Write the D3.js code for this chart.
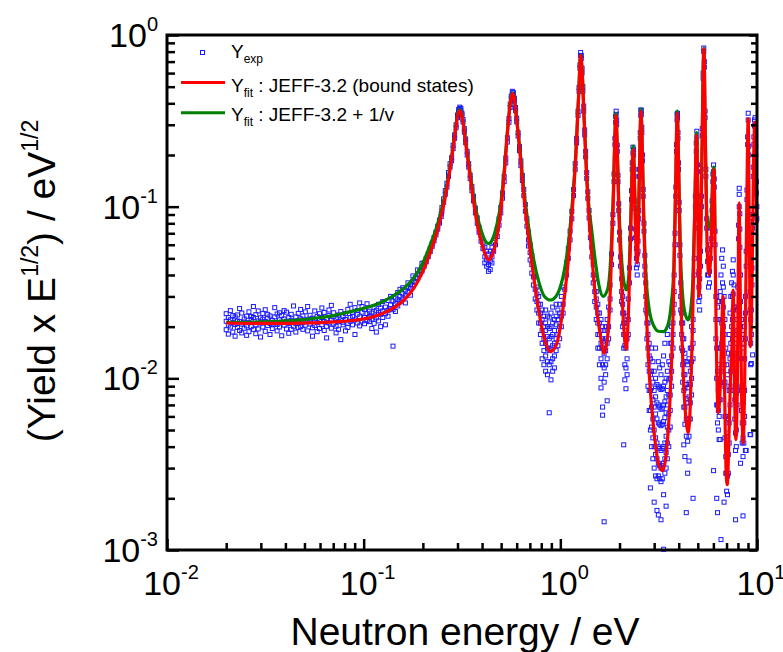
<!DOCTYPE html>
<html>
<head>
<meta charset="utf-8">
<script src="https://cdn.jsdelivr.net/npm/d3@7"></script>
<style>
body { margin: 0; background: #fff; }
text { font-family: "Liberation Sans", Arial, sans-serif; fill: #000; }
</style>
</head>
<body>
<svg id="chart" width="783" height="652"></svg>
<script>
// fitted curves, [energy eV, yield x E^1/2]
let redFit = [
  [0.020,0.0210],[0.030,0.0209],[0.040,0.0209],[0.050,0.0210],[0.060,0.0211],[0.070,0.0213],
  [0.080,0.0215],[0.090,0.0218],[0.100,0.0222],[0.120,0.0235],[0.140,0.0255],[0.160,0.0285],
  [0.180,0.0335],[0.200,0.0420],[0.218,0.0540],[0.235,0.0700],[0.250,0.0920],[0.265,0.128],
  [0.280,0.190],[0.292,0.270],[0.300,0.335],[0.306,0.362],[0.312,0.355],[0.320,0.310],
  [0.330,0.235],[0.345,0.160],[0.360,0.112],[0.380,0.077],[0.400,0.060],[0.420,0.051],
  [0.432,0.049],[0.450,0.052],[0.475,0.066],[0.500,0.098],[0.520,0.160],[0.540,0.280],
  [0.560,0.420],[0.571,0.455],[0.582,0.430],[0.600,0.320],[0.625,0.200],[0.650,0.120],
  [0.690,0.065],[0.730,0.040],[0.780,0.024],[0.830,0.0170],[0.890,0.0143],[0.950,0.0155],
  [1.000,0.0200],[1.050,0.0300],[1.100,0.0500],[1.150,0.0950],[1.200,0.200],[1.240,0.450],
  [1.268,0.760],[1.290,0.620],[1.320,0.330],[1.360,0.150],[1.400,0.085],[1.450,0.050],
  [1.520,0.027],[1.600,0.0175],[1.670,0.0140],[1.740,0.0175],[1.800,0.035],[1.860,0.110],
  [1.900,0.280],[1.918,0.340],[1.940,0.250],[1.980,0.100],[2.040,0.040],[2.100,0.020],
  [2.160,0.0148],[2.220,0.024],[2.280,0.070],[2.330,0.190],[2.350,0.215],[2.380,0.140],
  [2.420,0.060],[2.460,0.047],[2.500,0.080],[2.540,0.230],[2.570,0.360],[2.600,0.260],
  [2.650,0.090],[2.720,0.030],[2.850,0.0095],[3.000,0.0048],[3.150,0.0032],[3.310,0.0029],
  [3.450,0.0036],[3.600,0.0070],[3.750,0.025],[3.850,0.120],[3.930,0.350],[3.990,0.180],
  [4.080,0.040],[4.200,0.0120],[4.350,0.0058],[4.470,0.0048],[4.580,0.0070],[4.700,0.020],
  [4.820,0.090],[4.930,0.260],[5.000,0.110],[5.060,0.030],[5.150,0.045],[5.250,0.200],
  [5.370,0.830],[5.460,0.250],[5.570,0.060],[5.700,0.040],[5.850,0.060],[5.970,0.150],
  [6.040,0.165],[6.120,0.060],[6.230,0.0130],[6.350,0.0063],[6.500,0.0090],[6.620,0.020],
  [6.730,0.030],[6.850,0.0080],[6.970,0.0028],[7.060,0.0024],[7.180,0.0040],[7.340,0.0107],
  [7.450,0.0150],[7.570,0.0327],[7.690,0.0080],[7.810,0.0044],[7.950,0.0100],[8.050,0.060],
  [8.120,0.105],[8.200,0.040],[8.350,0.0080],[8.510,0.0042],[8.650,0.0090],[8.850,0.080],
  [9.020,0.325],[9.130,0.080],[9.270,0.0153],[9.450,0.040],[9.620,0.200],[9.750,0.310],
  [9.880,0.150],[10.00,0.080]
]

let greenFit = [
  [0.020,0.0212],[0.030,0.0213],[0.040,0.0216],[0.050,0.0220],[0.060,0.0226],[0.070,0.0232],
  [0.080,0.0240],[0.090,0.0248],[0.100,0.0256],[0.120,0.0274],[0.140,0.0300],[0.160,0.0335],
  [0.180,0.0385],[0.200,0.0470],[0.218,0.0600],[0.235,0.0760],[0.250,0.0980],[0.265,0.134],
  [0.280,0.196],[0.292,0.275],[0.300,0.340],[0.306,0.366],[0.312,0.360],[0.320,0.316],
  [0.330,0.242],[0.345,0.168],[0.360,0.120],[0.380,0.086],[0.400,0.070],[0.420,0.062],
  [0.432,0.061],[0.450,0.064],[0.475,0.078],[0.500,0.108],[0.520,0.170],[0.540,0.288],
  [0.560,0.425],[0.571,0.460],[0.582,0.435],[0.600,0.326],[0.625,0.208],[0.650,0.130],
  [0.690,0.076],[0.730,0.050],[0.780,0.036],[0.830,0.030],[0.890,0.0286],[0.950,0.030],
  [1.000,0.034],[1.050,0.043],[1.100,0.062],[1.150,0.105],[1.200,0.210],[1.240,0.460],
  [1.268,0.770],[1.290,0.630],[1.320,0.340],[1.360,0.160],[1.400,0.098],[1.440,0.075],
  [1.500,0.050],[1.570,0.035],[1.650,0.0300],[1.740,0.033],[1.800,0.048],[1.860,0.120],
  [1.900,0.290],[1.918,0.350],[1.940,0.260],[1.980,0.112],[2.040,0.053],[2.100,0.037],
  [2.170,0.0327],[2.230,0.040],[2.280,0.085],[2.330,0.200],[2.350,0.225],[2.380,0.150],
  [2.420,0.075],[2.460,0.062],[2.500,0.092],[2.540,0.240],[2.570,0.370],[2.600,0.270],
  [2.650,0.100],[2.720,0.042],[2.850,0.024],[3.000,0.020],[3.150,0.0188],[3.340,0.0187],
  [3.500,0.020],[3.650,0.026],[3.780,0.045],[3.860,0.130],[3.930,0.360],[3.990,0.190],
  [4.080,0.055],[4.200,0.029],[4.350,0.0230],[4.470,0.0219],[4.600,0.025],[4.720,0.038],
  [4.830,0.100],[4.930,0.270],[5.000,0.120],[5.060,0.045],[5.150,0.055],[5.250,0.210],
  [5.370,0.840],[5.460,0.260],[5.570,0.085],[5.710,0.076],[5.850,0.085],[5.970,0.160],
  [6.040,0.170],[6.120,0.070]
]

// measured points: [energy, [yields at that energy]]
let expPoints = [
  [0.0200,[0.0215,0.0238,0.0192]],[0.0205,[0.0204,0.0226,0.0181]],[0.0210,[0.0219,0.0199,0.0248]],
  [0.0216,[0.0211,0.0186,0.0232]],[0.0222,[0.0228,0.0206,0.0176]],[0.0228,[0.0198,0.0234,0.0216]],
  [0.0234,[0.0214,0.0190,0.0255]],[0.0240,[0.0207,0.0240,0.0184]],[0.0247,[0.0222,0.0196,0.0213]],
  [0.0254,[0.0230,0.0202,0.0178]],[0.0261,[0.0211,0.0187,0.0244]],[0.0268,[0.0220,0.0200,0.0229]],
  [0.0275,[0.0226,0.0193,0.0262]],[0.0283,[0.0205,0.0235,0.0182]],[0.0291,[0.0216,0.0247,0.0194]],
  [0.0299,[0.0210,0.0225,0.0174]],[0.0307,[0.0199,0.0221,0.0239]],[0.0316,[0.0214,0.0188,0.0251]],
  [0.0325,[0.0224,0.0203,0.0236]],[0.0334,[0.0209,0.0231,0.0180]],[0.0343,[0.0195,0.0217,0.0205]],
  [0.0353,[0.0228,0.0210,0.0258]],[0.0363,[0.0206,0.0237,0.0189]],[0.0373,[0.0219,0.0199,0.0241]],
  [0.0383,[0.0232,0.0212,0.0177]],[0.0394,[0.0204,0.0222,0.0248]],[0.0405,[0.0215,0.0243,0.0194]],
  [0.0416,[0.0209,0.0226,0.0183]],[0.0428,[0.0193,0.0218,0.0236]],[0.0440,[0.0212,0.0201,0.0264]],
  [0.0452,[0.0228,0.0208,0.0186]],[0.0465,[0.0216,0.0239,0.0198]],[0.0478,[0.0200,0.0222,0.0252]],
  [0.0491,[0.0231,0.0193,0.0211]],[0.0505,[0.0214,0.0204,0.0244]],[0.0519,[0.0221,0.0189,0.0262]],
  [0.0534,[0.0207,0.0233,0.0216]],[0.0549,[0.0197,0.0224,0.0176]],[0.0564,[0.0217,0.0247,0.0203]],
  [0.0580,[0.0211,0.0229,0.0187]],[0.0596,[0.0195,0.0219,0.0238]],[0.0613,[0.0226,0.0205,0.0257]],
  [0.0630,[0.0214,0.0242,0.0190]],[0.0648,[0.0222,0.0201,0.0172]],[0.0666,[0.0210,0.0232,0.0250]],
  [0.0685,[0.0218,0.0196,0.0266]],[0.0704,[0.0228,0.0207,0.0241]],[0.0724,[0.0201,0.0223,0.0184]],
  [0.0744,[0.0234,0.0214,0.0193]],[0.0765,[0.0219,0.0245,0.0168]],[0.0786,[0.0205,0.0229,0.0212]],
  [0.0808,[0.0238,0.0220,0.0189]],[0.0831,[0.0209,0.0252,0.0198]],[0.0854,[0.0226,0.0215,0.0270]],
  [0.0878,[0.0242,0.0205,0.0230]],[0.0903,[0.0219,0.0258,0.0180]],[0.0928,[0.0210,0.0236,0.0248]],
  [0.0954,[0.0228,0.0202,0.0275]],[0.0981,[0.0243,0.0216,0.0262]],
  [0.101,[0.0226,0.0208,0.0252]],[0.104,[0.0238,0.0217,0.0272]],[0.107,[0.0214,0.0246,0.0229]],
  [0.110,[0.0240,0.0221,0.0195]],[0.113,[0.0231,0.0258,0.0209]],[0.116,[0.0225,0.0249,0.0186]],
  [0.119,[0.0242,0.0216,0.0270]],[0.122,[0.0236,0.0257,0.0200]],[0.125,[0.0226,0.0280,0.0247]],
  [0.129,[0.0260,0.0238,0.0205]],[0.133,[0.0249,0.0284,0.0230]],[0.137,[0.0268,0.0255,0.0300]],
  [0.141,[0.0282,0.0251,0.0154]],[0.145,[0.0272,0.0293,0.0245]],[0.149,[0.0287,0.0264,0.0316]],
  [0.153,[0.0300,0.0279,0.0330]],[0.158,[0.0311,0.0290,0.0337]],[0.163,[0.0326,0.0303,0.0275]],
  [0.168,[0.0338,0.0318,0.0360]],[0.173,[0.0352,0.0334,0.0305]],[0.178,[0.0368,0.0345,0.0395]],
  [0.183,[0.0386,0.0364]],[0.188,[0.0405,0.0382,0.0428]],[0.193,[0.0422,0.0404]],
  [0.198,[0.0445,0.0422,0.0468]],[0.203,[0.0470,0.0450]],[0.208,[0.0500,0.0478]],
  [0.213,[0.0532,0.0512]],[0.218,[0.0572,0.0548]],[0.223,[0.0612,0.0588]],[0.228,[0.0660,0.0632]],
  [0.233,[0.0710,0.0684]],[0.238,[0.0770,0.0740]],[0.243,[0.0835,0.0802]],[0.248,[0.0910,0.0875]],
  [0.250,[0.094,0.099]],[0.255,[0.106,0.111]],[0.260,[0.118,0.124]],[0.265,[0.130,0.137]],
  [0.270,[0.150,0.158]],[0.275,[0.170,0.178]],[0.280,[0.193,0.185]],[0.285,[0.218,0.228]],
  [0.290,[0.250,0.262]],[0.295,[0.288,0.300]],[0.300,[0.330,0.342]],[0.304,[0.356,0.368]],
  [0.308,[0.372,0.380]],[0.312,[0.362,0.374]],[0.316,[0.342,0.350]],[0.320,[0.312,0.322]],
  [0.325,[0.272,0.285]],[0.330,[0.236,0.248]],[0.336,[0.200,0.210]],[0.342,[0.170,0.178]],
  [0.348,[0.146,0.153]],[0.355,[0.124,0.131]],[0.362,[0.108,0.115]],[0.370,[0.092,0.098]],
  [0.378,[0.080,0.086]],[0.386,[0.071,0.076]],[0.395,[0.063,0.068]],[0.404,[0.057,0.062]],
  [0.413,[0.051,0.058,0.047]],[0.422,[0.049,0.055,0.045]],[0.431,[0.046,0.053,0.042]],
  [0.440,[0.048,0.055,0.043]],[0.449,[0.051,0.058,0.047]],[0.458,[0.055,0.062]],
  [0.468,[0.060,0.067]],[0.478,[0.067,0.074]],[0.488,[0.078,0.085]],[0.498,[0.092,0.099]],
  [0.508,[0.112,0.120]],[0.518,[0.140,0.150]],[0.528,[0.180,0.192]],[0.538,[0.238,0.252]],
  [0.548,[0.310,0.326]],[0.556,[0.378,0.395]],[0.563,[0.425,0.440]],[0.570,[0.452,0.470]],
  [0.577,[0.448,0.462]],[0.584,[0.412,0.428]],[0.592,[0.362,0.378]],[0.600,[0.312,0.328]],
  [0.610,[0.258,0.270]],[0.620,[0.212,0.224]],[0.630,[0.174,0.185]],[0.641,[0.142,0.152]],
  [0.652,[0.116,0.126]],[0.664,[0.094,0.103]],[0.676,[0.077,0.085]],[0.689,[0.064,0.071,0.059]],
  [0.702,[0.054,0.060,0.049]],[0.716,[0.046,0.052,0.041]],[0.730,[0.039,0.045,0.035]],
  [0.745,[0.033,0.039,0.029]],[0.760,[0.028,0.034,0.025,0.031]],[0.776,[0.024,0.030,0.021,0.027]],
  [0.792,[0.021,0.027,0.018,0.024]],[0.808,[0.019,0.025,0.016,0.022,0.013]],
  [0.825,[0.017,0.023,0.0145,0.020,0.012]],[0.842,[0.016,0.021,0.0135,0.019,0.011,0.025]],
  [0.860,[0.015,0.020,0.0125,0.0175,0.0105,0.023]],[0.878,[0.0145,0.0195,0.012,0.017,0.0063,0.0225]],
  [0.896,[0.015,0.020,0.0125,0.0175,0.0098,0.024]],[0.914,[0.0155,0.021,0.013,0.018,0.011,0.026]],
  [0.933,[0.016,0.022,0.0135,0.019,0.0115]],[0.952,[0.017,0.023,0.0145,0.0205,0.027]],
  [0.972,[0.018,0.025,0.0155,0.022]],[0.992,[0.020,0.027,0.017,0.024]],
  [1.012,[0.023,0.030,0.020]],[1.033,[0.027,0.034,0.024]],[1.054,[0.033,0.039]],
  [1.076,[0.040,0.047]],[1.098,[0.050,0.057]],[1.121,[0.064,0.072]],[1.144,[0.085,0.094]],
  [1.167,[0.116,0.126]],[1.190,[0.165,0.178]],[1.210,[0.235,0.250]],[1.230,[0.340,0.360]],
  [1.245,[0.470,0.495]],[1.258,[0.640,0.670]],[1.268,[0.760,0.790]],[1.278,[0.730,0.760]],
  [1.290,[0.600,0.640]],[1.302,[0.470,0.500]],[1.315,[0.360,0.385]],[1.330,[0.262,0.280]],
  [1.345,[0.195,0.210]],[1.362,[0.146,0.158]],[1.380,[0.112,0.122]],[1.400,[0.086,0.095]],
  [1.422,[0.066,0.074]],[1.445,[0.051,0.058]],[1.470,[0.040,0.046,0.036]],
  [1.496,[0.032,0.038,0.028]],[1.523,[0.026,0.032,0.022,0.029]],
  [1.551,[0.021,0.027,0.018,0.024,0.015]],[1.580,[0.018,0.024,0.015,0.021,0.012]],
  [1.610,[0.016,0.022,0.013,0.019,0.010,0.0088]],[1.640,[0.015,0.020,0.012,0.017,0.0061,0.0068]],
  [1.670,[0.014,0.019,0.0115,0.0165,0.00146,0.0095]],[1.700,[0.0145,0.020,0.012,0.017,0.0105]],
  [1.730,[0.016,0.022,0.013,0.019,0.0074]],[1.760,[0.020,0.026,0.017]],[1.790,[0.029,0.035,0.025]],
  [1.820,[0.046,0.053]],[1.850,[0.080,0.090]],[1.875,[0.140,0.155]],[1.895,[0.230,0.250]],
  [1.910,[0.310,0.335]],[1.922,[0.345,0.360]],[1.934,[0.300,0.320]],[1.948,[0.210,0.228]],
  [1.964,[0.140,0.152]],[1.982,[0.095,0.104]],[2.002,[0.064,0.071]],[2.025,[0.045,0.051]],
  [2.050,[0.032,0.038,0.028]],[2.075,[0.024,0.030,0.020,0.027]],
  [2.100,[0.018,0.024,0.015,0.0041,0.021]],[2.128,[0.0155,0.021,0.012,0.018,0.0098]],
  [2.156,[0.015,0.020,0.0115,0.0087,0.017]],[2.185,[0.017,0.023,0.013,0.0105]],
  [2.215,[0.022,0.029,0.018]],[2.245,[0.036,0.044]],[2.275,[0.065,0.075]],[2.300,[0.110,0.124]],
  [2.320,[0.165,0.180]],[2.340,[0.205,0.222]],[2.358,[0.200,0.215]],[2.375,[0.150,0.165]],
  [2.395,[0.098,0.108]],[2.415,[0.066,0.074]],[2.437,[0.050,0.057,0.044]],
  [2.460,[0.046,0.053,0.040]],[2.483,[0.055,0.063]],[2.506,[0.085,0.095]],[2.528,[0.150,0.165]],
  [2.548,[0.250,0.270]],[2.565,[0.340,0.365]],[2.580,[0.345,0.365]],[2.597,[0.270,0.290]],
  [2.616,[0.185,0.200]],[2.638,[0.115,0.126]],[2.662,[0.072,0.080]],[2.690,[0.045,0.052,0.040]],
  [2.720,[0.030,0.036,0.025]],[2.755,[0.021,0.027,0.017,0.024]],
  [2.790,[0.015,0.021,0.012,0.018,0.009]],[2.830,[0.011,0.016,0.0085,0.0135,0.0065]],
  [2.870,[0.0085,0.013,0.0065,0.0105,0.005,0.0023]],[2.910,[0.0068,0.011,0.0052,0.0088,0.0040,0.0150]],
  [2.955,[0.0058,0.0095,0.0045,0.0075,0.0034,0.0125]],
  [3.000,[0.0050,0.0085,0.0040,0.0068,0.0030,0.0110,0.0019]],
  [3.050,[0.0045,0.0078,0.0036,0.0062,0.0027,0.0100,0.0150]],
  [3.100,[0.0042,0.0072,0.0034,0.0058,0.0026,0.0092,0.0017]],
  [3.150,[0.0040,0.0070,0.0032,0.0055,0.0027,0.0090,0.0016,0.0125]],
  [3.200,[0.0039,0.0068,0.0031,0.0054,0.0026,0.0088,0.0115]],
  [3.250,[0.0038,0.0066,0.0030,0.0053,0.0025,0.0086,0.0015,0.0105]],
  [3.300,[0.0039,0.0067,0.0031,0.0054,0.0026,0.0087,0.0120]],
  [3.350,[0.0040,0.0070,0.0032,0.0056,0.0021,0.0090,0.00101,0.0135]],
  [3.400,[0.0042,0.0073,0.0034,0.0059,0.0028,0.0095,0.0160]],
  [3.450,[0.0046,0.0078,0.0037,0.0063,0.0030,0.0100,0.0018]],
  [3.500,[0.0052,0.0085,0.0042,0.0070,0.0034,0.0110,0.0180]],
  [3.560,[0.0062,0.0098,0.0050,0.0080,0.0040,0.0125]],
  [3.620,[0.0080,0.012,0.0065,0.0100,0.0052,0.0160]],
  [3.680,[0.011,0.016,0.0090,0.0135,0.0200]],[3.740,[0.018,0.024,0.015,0.021]],
  [3.790,[0.032,0.040,0.027]],[3.830,[0.060,0.070]],[3.865,[0.115,0.130]],[3.895,[0.210,0.230]],
  [3.920,[0.320,0.345]],[3.942,[0.330,0.350]],[3.965,[0.250,0.270]],[3.990,[0.165,0.180]],
  [4.020,[0.095,0.106]],[4.055,[0.052,0.060]],[4.095,[0.030,0.036,0.025]],
  [4.140,[0.018,0.024,0.015,0.021]],[4.190,[0.012,0.017,0.0095,0.0145,0.0210]],
  [4.245,[0.0085,0.0125,0.0068,0.0105,0.0041,0.0170]],[4.300,[0.0068,0.0105,0.0054,0.0088,0.0035,0.0140]],
  [4.370,[0.0058,0.0092,0.0046,0.0076,0.00165,0.0125]],[4.440,[0.0054,0.0088,0.0043,0.0072,0.0028,0.0120]],
  [4.510,[0.0058,0.0094,0.0046,0.0078,0.0033,0.0130]],[4.580,[0.0072,0.0110,0.0058,0.0092,0.0150]],
  [4.650,[0.0100,0.015,0.0080,0.0125,0.0200]],[4.730,[0.016,0.022,0.013,0.0020,0.019]],
  [4.800,[0.040,0.050]],[4.860,[0.100,0.115]],[4.910,[0.210,0.235]],[4.945,[0.255,0.275]],
  [4.980,[0.160,0.175]],[5.020,[0.075,0.085]],[5.065,[0.034,0.042,0.028]],[5.110,[0.030,0.038,0.025]],
  [5.160,[0.045,0.055]],[5.215,[0.100,0.115]],[5.270,[0.260,0.285]],[5.320,[0.560,0.600]],
  [5.360,[0.800,0.840]],[5.400,[0.650,0.700]],[5.445,[0.330,0.360]],[5.495,[0.150,0.165]],
  [5.550,[0.075,0.085]],[5.610,[0.048,0.056,0.040]],[5.670,[0.040,0.048,0.034]],
  [5.730,[0.042,0.050,0.036]],[5.790,[0.050,0.060]],[5.850,[0.065,0.075]],[5.910,[0.095,0.108]],
  [5.965,[0.140,0.155]],[6.015,[0.160,0.175,0.0029]],[6.065,[0.130,0.145]],[6.120,[0.060,0.072]],
  [6.180,[0.022,0.030,0.017]],[6.240,[0.010,0.015,0.0070,0.0020,0.030]],
  [6.300,[0.0070,0.011,0.0055,0.00165,0.026]],[6.360,[0.0065,0.010,0.0050,0.0085,0.022]],
  [6.420,[0.0075,0.012,0.0060,0.0044,0.028]],[6.500,[0.0095,0.015,0.0075,0.0044,0.032]],
  [6.560,[0.015,0.022,0.011,0.00115,0.040]],[6.620,[0.021,0.028,0.016,0.050]],
  [6.680,[0.028,0.036,0.022,0.056]],[6.740,[0.026,0.034,0.020,0.045]],
  [6.800,[0.012,0.018,0.0090,0.0019,0.030]],[6.870,[0.0060,0.0095,0.0045,0.022]],
  [6.940,[0.0035,0.0060,0.0028,0.015]],[7.010,[0.0028,0.0048,0.0022,0.0120]],
  [7.080,[0.0027,0.0046,0.0021,0.0105]],[7.150,[0.0036,0.0058,0.0028,0.0140]],
  [7.220,[0.0055,0.0085,0.0042,0.018]],[7.290,[0.0090,0.0130,0.0070,0.024]],
  [7.360,[0.0110,0.0160,0.0085,0.030]],[7.430,[0.0140,0.0200,0.0110,0.036]],
  [7.500,[0.022,0.030,0.017,0.042]],[7.570,[0.031,0.040,0.025,0.049]],
  [7.640,[0.018,0.026,0.013,0.035]],[7.710,[0.0075,0.012,0.0058,0.026]],
  [7.780,[0.0048,0.0078,0.0038,0.0015,0.018]],[7.850,[0.0050,0.0082,0.0040,0.016]],
  [7.920,[0.0090,0.014,0.0070,0.022]],[7.990,[0.025,0.034,0.019]],[8.060,[0.065,0.078]],
  [8.120,[0.100,0.118,0.128]],[8.180,[0.058,0.074,0.091]],[8.250,[0.020,0.028,0.0032,0.040]],
  [8.330,[0.0085,0.013,0.0065,0.022]],[8.410,[0.0055,0.0088,0.0042,0.018]],
  [8.490,[0.0045,0.0072,0.0035,0.00158,0.015]],[8.570,[0.0055,0.0088,0.0042,0.016]],
  [8.650,[0.0085,0.013,0.0060,0.020]],[8.730,[0.017,0.024,0.0038,0.030]],
  [8.810,[0.045,0.055,0.0038]],[8.890,[0.110,0.125]],[8.960,[0.230,0.255]],[9.020,[0.320,0.350]],
  [9.080,[0.200,0.225]],[9.150,[0.070,0.082]],[9.220,[0.025,0.032,0.0047]],
  [9.290,[0.016,0.022,0.0047,0.012]],[9.360,[0.018,0.025,0.0122]],[9.430,[0.035,0.044]],
  [9.500,[0.075,0.090,0.0137]],[9.570,[0.150,0.170]],[9.640,[0.230,0.255]],[9.710,[0.295,0.320]],
  [9.780,[0.300,0.330]],[9.850,[0.200,0.225]],[9.920,[0.120,0.140]],[9.980,[0.085,0.100]]
]

let xMajor = [0.01, 0.1, 1, 10]
let xExponents = ['-2', '-1', '0', '1']
let yMajor = [0.001, 0.01, 0.1, 1]
let yExponents = ['-3', '-2', '-1', '0']

let svg = d3.select('#chart')

svg.append('rect')
  .attr('width', 783)
  .attr('height', 652)
  .attr('fill', '#fff')

let x = d3.scaleLog().domain([0.01, 10]).range([167, 757])
let y = d3.scaleLog().domain([0.001, 1]).range([550, 35])

let isDecade = t => Math.abs(Math.log10(t) - Math.round(Math.log10(t))) < 1e-6
let xMinor = x.ticks().filter(t => !isDecade(t))
let yMinor = y.ticks().filter(t => !isDecade(t))

// measured points
let pts = expPoints.flatMap(([e, ys]) => ys.map(v => [e, v]))

svg.append('g')
  .selectAll('rect')
  .data(pts)
  .enter()
  .append('rect')
  .attr('x', d => x(d[0]) - 2)
  .attr('y', d => y(d[1]) - 2)
  .attr('width', 4)
  .attr('height', 4)
  .attr('fill', 'none')
  .attr('stroke', '#1a1aff')
  .attr('stroke-width', 1)

let line = d3.line()
  .x(d => x(d[0]))
  .y(d => y(d[1]))
  .curve(d3.curveMonotoneX)

svg.append('path')
  .datum(greenFit)
  .attr('d', line)
  .attr('fill', 'none')
  .attr('stroke', '#008000')
  .attr('stroke-width', 3.2)

svg.append('path')
  .datum(redFit)
  .attr('d', line)
  .attr('fill', 'none')
  .attr('stroke', '#ff0000')
  .attr('stroke-width', 3.2)

// axes, ticks pointing inward
function ticks(axis, values, size, translate) {
  let g = svg.append('g')
    .attr('transform', translate)
    .call(axis.tickValues(values).tickSize(size).tickFormat(''))
  g.select('.domain').remove()
  g.selectAll('line').attr('stroke', '#000').attr('stroke-width', 2.5)
}

ticks(d3.axisBottom(x), xMajor, -11, 'translate(0,550)')
ticks(d3.axisBottom(x), xMinor, -7, 'translate(0,550)')
ticks(d3.axisLeft(y), yMajor, -12, 'translate(167,0)')
ticks(d3.axisLeft(y), yMinor, -8, 'translate(167,0)')
ticks(d3.axisRight(y), yMajor, -8, 'translate(757,0)')
ticks(d3.axisRight(y), yMinor, -6, 'translate(757,0)')

svg.append('rect')
  .attr('x', 167)
  .attr('y', 35)
  .attr('width', 590)
  .attr('height', 515)
  .attr('fill', 'none')
  .attr('stroke', '#000')
  .attr('stroke-width', 3)

// tick labels 10^n
let xl = svg.selectAll('.x-label')
  .data(xMajor)
  .enter()
  .append('text')
  .classed('x-label', true)
  .attr('x', d => x(d) + 4)
  .attr('y', 595)
  .attr('text-anchor', 'middle')
  .style('font-size', '34px')
xl.append('tspan').text('10')
xl.append('tspan')
  .attr('dy', -16)
  .style('font-size', '20px')
  .text((d, i) => xExponents[i])

let yl = svg.selectAll('.y-label')
  .data(yMajor)
  .enter()
  .append('text')
  .classed('y-label', true)
  .attr('x', 158)
  .attr('y', d => y(d) + 12)
  .attr('text-anchor', 'end')
  .style('font-size', '34px')
yl.append('tspan').text('10')
yl.append('tspan')
  .attr('dy', -16)
  .style('font-size', '20px')
  .text((d, i) => yExponents[i])

// axis titles
svg.append('text')
  .attr('x', 465)
  .attr('y', 645)
  .attr('text-anchor', 'middle')
  .style('font-size', '39px')
  .text('Neutron energy / eV')

let yt = svg.append('text')
  .attr('transform', 'translate(55,281) rotate(-90)')
  .attr('text-anchor', 'middle')
  .style('font-size', '39px')
yt.append('tspan').text('(Yield x E')
yt.append('tspan').attr('dy', -17).style('font-size', '23px').text('1/2')
yt.append('tspan').attr('dy', 17).text(') / eV')
yt.append('tspan').attr('dy', -17).style('font-size', '23px').text('1/2')

// legend
let legend = svg.append('g')

legend.append('rect')
  .attr('x', 200.5)
  .attr('y', 50.5)
  .attr('width', 4)
  .attr('height', 4)
  .attr('fill', 'none')
  .attr('stroke', '#1a1aff')
  .attr('stroke-width', 1)

legend.append('line')
  .attr('x1', 181).attr('x2', 225)
  .attr('y1', 82.5).attr('y2', 82.5)
  .attr('stroke', '#ff0000')
  .attr('stroke-width', 3)

legend.append('line')
  .attr('x1', 181).attr('x2', 225)
  .attr('y1', 112.7).attr('y2', 112.7)
  .attr('stroke', '#008000')
  .attr('stroke-width', 3)

let legendRows = [
  {sub: 'exp', rest: '', y: 58},
  {sub: 'fit', rest: ' : JEFF-3.2 (bound states)', y: 92},
  {sub: 'fit', rest: ' : JEFF-3.2 + 1/v', y: 121}
]

legendRows.forEach(r => {
  let t = legend.append('text')
    .attr('x', 231)
    .attr('y', r.y)
    .style('font-size', '19px')
  t.append('tspan').text('Y')
  t.append('tspan').attr('dy', 5).style('font-size', '12px').text(r.sub)
  if (r.rest) t.append('tspan').attr('dy', -5).text(r.rest)
})
</script>
</body>
</html>
